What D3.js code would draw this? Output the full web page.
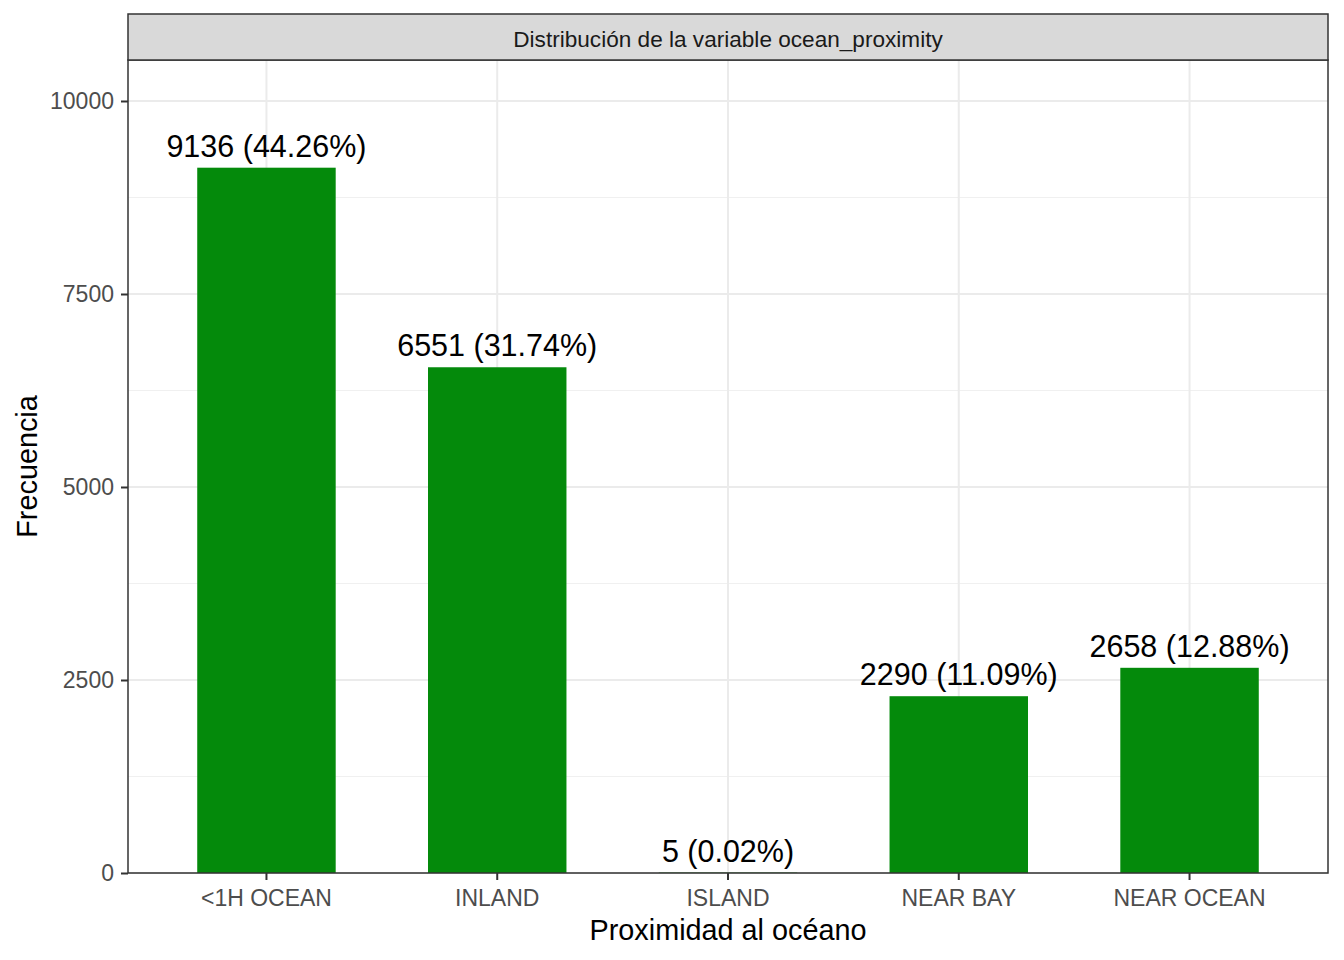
<!DOCTYPE html>
<html>
<head>
<meta charset="utf-8">
<script src="https://cdnjs.cloudflare.com/ajax/libs/d3/7.8.5/d3.min.js"></script>
<style>
  body { margin: 0; background: #fff; }
  text { font-family: "Liberation Sans", Arial, sans-serif; }
</style>
</head>
<body>
<svg id="chart" width="1344" height="960"></svg>
<script>
// data
var categories = ['<1H OCEAN', 'INLAND', 'ISLAND', 'NEAR BAY', 'NEAR OCEAN'];
var counts = [9136, 6551, 5, 2290, 2658];
var percents = ['44.26%', '31.74%', '0.02%', '11.09%', '12.88%'];
var yTicks = [0, 2500, 5000, 7500, 10000];
var yMinor = [1250, 3750, 6250, 8750];

var svg = d3.select('#chart');

var panel = { left: 128, right: 1328, top: 60, bottom: 873 },
    stripTop = 14;

var x = d3.scaleBand()
  .domain(categories)
  .range([panel.left, panel.right])
  .paddingOuter(0.1)
  .paddingInner(0);

var y = d3.scaleLinear()
  .domain([0, 10531])
  .range([panel.bottom, panel.top]);

var barWidth = x.bandwidth() * 0.6;

// grid lines
var grid = svg.append('g');

grid.selectAll('line.minor')
  .data(yMinor)
  .enter().append('line')
  .attr('x1', panel.left).attr('x2', panel.right)
  .attr('y1', function(d) { return y(d); })
  .attr('y2', function(d) { return y(d); })
  .attr('stroke', '#f0f0f0')
  .attr('stroke-width', 1);

grid.selectAll('line.major')
  .data(yTicks)
  .enter().append('line')
  .attr('x1', panel.left).attr('x2', panel.right)
  .attr('y1', function(d) { return y(d); })
  .attr('y2', function(d) { return y(d); })
  .attr('stroke', '#ebebeb')
  .attr('stroke-width', 2);

grid.selectAll('line.vmajor')
  .data(categories)
  .enter().append('line')
  .attr('y1', panel.top).attr('y2', panel.bottom)
  .attr('x1', function(d) { return x(d) + x.bandwidth() / 2; })
  .attr('x2', function(d) { return x(d) + x.bandwidth() / 2; })
  .attr('stroke', '#ebebeb')
  .attr('stroke-width', 2);

// bars
svg.selectAll('rect.bar')
  .data(counts)
  .enter().append('rect')
  .attr('class', 'bar')
  .attr('x', function(d, i) { return x(categories[i]) + (x.bandwidth() - barWidth) / 2; })
  .attr('y', function(d) { return y(d); })
  .attr('width', barWidth)
  .attr('height', function(d) { return y(0) - y(d); })
  .attr('fill', '#048a0b');

// value labels
svg.selectAll('text.value')
  .data(counts)
  .enter().append('text')
  .attr('class', 'value')
  .attr('x', function(d, i) { return x(categories[i]) + x.bandwidth() / 2; })
  .attr('y', function(d) { return y(d) - 11; })
  .attr('text-anchor', 'middle')
  .attr('font-size', 30.5)
  .attr('fill', '#000')
  .text(function(d, i) { return d + ' (' + percents[i] + ')'; });

// panel border
svg.append('rect')
  .attr('x', panel.left).attr('y', panel.top)
  .attr('width', panel.right - panel.left)
  .attr('height', panel.bottom - panel.top)
  .attr('fill', 'none')
  .attr('stroke', '#333')
  .attr('stroke-width', 1.5);

// facet strip
svg.append('rect')
  .attr('x', panel.left).attr('y', stripTop)
  .attr('width', panel.right - panel.left)
  .attr('height', panel.top - stripTop)
  .attr('fill', '#d9d9d9')
  .attr('stroke', '#333')
  .attr('stroke-width', 1.5);

svg.append('text')
  .attr('x', (panel.left + panel.right) / 2)
  .attr('y', (stripTop + panel.top) / 2 + 2)
  .attr('dy', '0.35em')
  .attr('text-anchor', 'middle')
  .attr('font-size', 22.6)
  .attr('fill', '#1a1a1a')
  .text('Distribución de la variable ocean_proximity');

// axes
var yAxis = d3.axisLeft(y).tickValues(yTicks).tickSize(7).tickPadding(7).tickFormat(d3.format('d'));
var yG = svg.append('g')
  .attr('transform', 'translate(' + panel.left + ',0)')
  .call(yAxis);
yG.select('.domain').remove();
yG.selectAll('.tick line').attr('stroke', '#333').attr('stroke-width', 2);
yG.selectAll('.tick text')
  .attr('font-size', 23)
  .attr('fill', '#4d4d4d')
  .attr('font-family', '"Liberation Sans", Arial, sans-serif');

var xAxis = d3.axisBottom(x).tickSize(7).tickPadding(10);
var xG = svg.append('g')
  .attr('transform', 'translate(0,' + panel.bottom + ')')
  .call(xAxis);
xG.select('.domain').remove();
xG.selectAll('.tick line').attr('stroke', '#333').attr('stroke-width', 2);
xG.selectAll('.tick text')
  .attr('font-size', 23)
  .attr('fill', '#4d4d4d')
  .attr('font-family', '"Liberation Sans", Arial, sans-serif');

// axis titles
svg.append('text')
  .attr('x', (panel.left + panel.right) / 2)
  .attr('y', 940)
  .attr('text-anchor', 'middle')
  .attr('font-size', 28.8)
  .attr('fill', '#000')
  .text('Proximidad al océano');

svg.append('text')
  .attr('transform', 'translate(37,' + ((panel.top + panel.bottom) / 2) + ') rotate(-90)')
  .attr('text-anchor', 'middle')
  .attr('font-size', 28.8)
  .attr('fill', '#000')
  .text('Frecuencia');
</script>
</body>
</html>
